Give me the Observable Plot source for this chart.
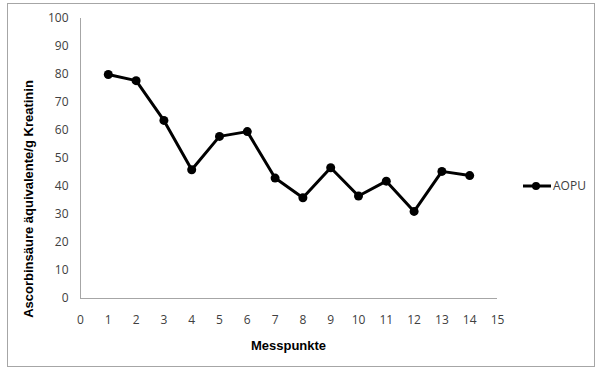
<!DOCTYPE html>
<html>
<head>
<meta charset="utf-8">
<script src="https://cdn.jsdelivr.net/npm/d3@7"></script>
<script src="https://cdn.jsdelivr.net/npm/@observablehq/plot@0.6"></script>
<style>
  body { margin: 0; background: #fff; }
  #wrap { position: relative; width: 602px; height: 373px; }
  #frame { position: absolute; left: 7px; top: 3px; width: 588px; height: 364px; border: 1px solid #a6a6a6; box-sizing: border-box; pointer-events: none; }
  #legend { position: absolute; left: 522px; top: 177px; font: 12px "Open Sans", sans-serif; color: #404040; display: flex; align-items: center; }
  #legend svg { margin-right: 1px; }
</style>
</head>
<body>
<div id="wrap">
  <div id="chart"></div>
  <div id="frame"></div>
  <div id="legend"><svg width="30" height="12"><line x1="1" y1="6" x2="29" y2="6" stroke="#000" stroke-width="3"/><circle cx="14" cy="6" r="4" fill="#000"/></svg><span>AOPU</span></div>
</div>
<script>
const messpunkte = [1, 2, 3, 4, 5, 6, 7, 8, 9, 10, 11, 12, 13, 14];
const aopu = [80, 77.8, 63.6, 46, 57.9, 59.6, 43, 36, 46.7, 36.6, 41.9, 31.1, 45.4, 43.9];
const xTicks = [0, 1, 2, 3, 4, 5, 6, 7, 8, 9, 10, 11, 12, 13, 14, 15];
const yTicks = [0, 10, 20, 30, 40, 50, 60, 70, 80, 90, 100];
const xTitle = "Messpunkte";
const yTitle = "Ascorbinsäure äquivalente/g Kreatinin";
const seriesName = "AOPU";

const data = messpunkte.map((m, i) => ({x: m, y: aopu[i]}));

const W = 602, H = 373;
const chart = Plot.plot({
  width: W,
  height: H,
  marginLeft: 80,
  marginRight: 105,
  marginTop: 18,
  marginBottom: 75,
  style: {fontFamily: "'Open Sans', sans-serif", fontSize: "12px", color: "#404040", background: "transparent"},
  x: {domain: [0, 15], ticks: xTicks, label: null},
  y: {domain: [0, 100], ticks: yTicks, label: null},
  marks: [
    Plot.axisX({ticks: xTicks, tickSize: 0, tickPadding: 17, label: null, fill: "#404040"}),
    Plot.axisY({ticks: yTicks, tickSize: 0, tickPadding: 12, label: null, fill: "#404040"}),
    Plot.ruleY([0], {stroke: "#a6a6a6", strokeWidth: 1}),
    Plot.ruleX([0], {stroke: "#a6a6a6", strokeWidth: 1}),
    Plot.line(data, {x: "x", y: "y", stroke: "#000", strokeWidth: 3}),
    Plot.dot(data, {x: "x", y: "y", r: 4.5, fill: "#000", stroke: "none"})
  ]
});
document.getElementById("chart").appendChild(chart);
document.querySelector("#legend span").textContent = seriesName;

const svg = d3.select(chart);
const xs = chart.scale("x");
const cx = (xs.apply(0) + xs.apply(15)) / 2;
svg.append("text")
  .attr("x", cx).attr("y", 350)
  .attr("text-anchor", "middle")
  .attr("font-family", "'Liberation Sans', Arial, sans-serif")
  .attr("font-weight", "bold").attr("font-size", 13).attr("fill", "#000")
  .text(xTitle);
const cy = 199;
svg.append("text")
  .attr("transform", `translate(33,${cy}) rotate(-90)`)
  .attr("text-anchor", "middle")
  .attr("font-family", "'Liberation Sans', Arial, sans-serif")
  .attr("font-weight", "bold").attr("font-size", 13).attr("fill", "#000")
  .text(yTitle);
</script>
</body>
</html>
